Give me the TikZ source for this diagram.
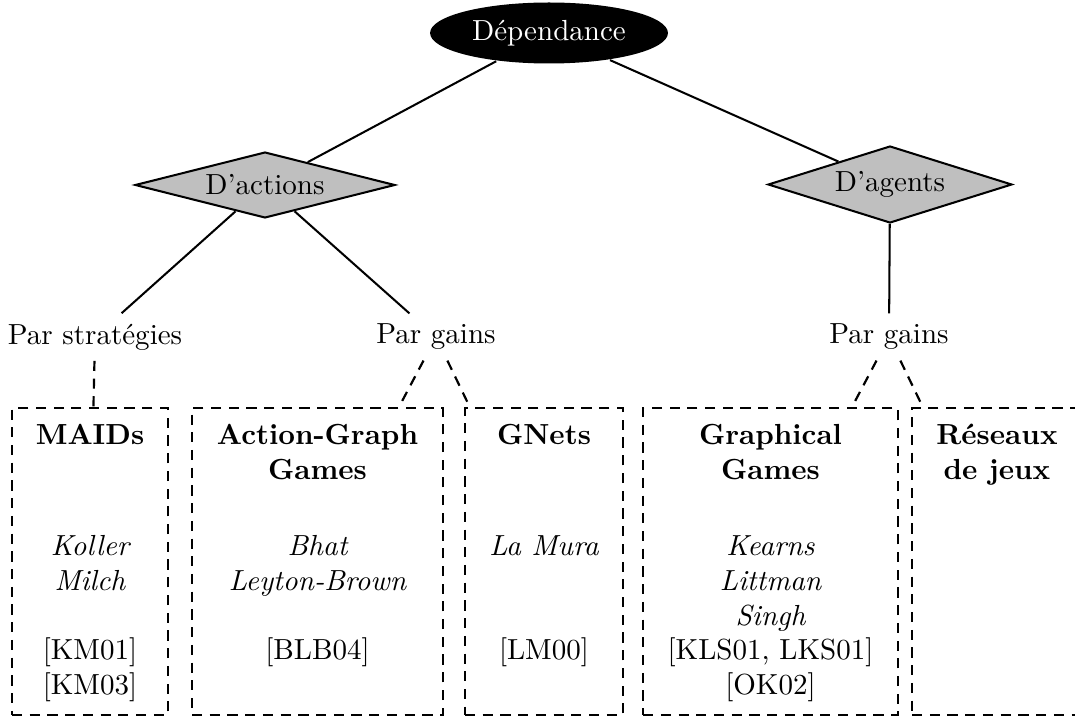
\documentclass[tikz,border=0pt]{standalone}
\usetikzlibrary{shapes.geometric}
\begin{document}
\begin{tikzpicture}[x=0.012093cm,y=-0.012093cm,line width=0.7pt,
  rootnode/.style={ellipse,fill=black,text=white,inner sep=0pt,minimum width=81.9pt,minimum height=21pt},
  choice/.style={diamond,draw,fill=black!25,aspect=3.5,inner sep=0pt},
  lvl/.style={inner sep=3.33pt},
  dashline/.style={line width=0.75pt,dash pattern=on 3.5pt off 2.6pt},
  fambox/.style={draw,dashline,rectangle,inner sep=0pt,minimum height=105.6pt},
  boxtitle/.style={font=\bfseries,anchor=base,inner sep=0pt},
  author/.style={font=\itshape,anchor=base,inner sep=0pt},
  citeref/.style={anchor=base,inner sep=0pt}]
\useasboundingbox (0,0) rectangle (1075,718);
\clip (0,0) rectangle (1075,718);

% top levels
\node[rootnode] (dep) at (549,33) {Dépendance};
\node[choice,minimum width=89.5pt,minimum height=22.7pt] (act) at (265,185) {D'actions};
\node[choice,minimum width=84pt,minimum height=26.5pt] (agt) at (890,184.5) {D'agents};

\node[lvl] (ps) at (95,337) {Par stratégies};
\node[lvl] (pg1) at (436,337) {Par gains};
\node[lvl] (pg2) at (889,337) {Par gains};

% family boxes
\node[fambox,minimum width=53.7pt] (maids) at (90,561.5) {};
\node[fambox,minimum width=86.4pt] (agg) at (317.5,561.5) {};
\node[fambox,minimum width=54.4pt] (gnets) at (544,561.5) {};
\node[fambox,minimum width=87.7pt] (gg) at (770.5,561.5) {};
\node[fambox,minimum width=58.5pt] (rj) at (997,561.5) {};

% solid connectors
\draw (dep) -- (act);
\draw (dep) -- (agt);
\draw (act) -- (ps);
\draw (act) -- (pg1);
\draw (agt) -- (pg2);

% dashed connectors
\draw[dashline] (ps) -- (maids);
\draw[dashline] (pg1) -- (agg);
\draw[dashline] (pg1) -- (gnets);
\draw[dashline] (pg2) -- (gg);
\draw[dashline] (pg2) -- (rj);

% MAIDs
\node[boxtitle] (t1) at (90,444) {MAIDs};
\node[author] (a1a) at (90,555) {Koller};
\node[author] (a1b) at (90,590) {Milch};
\node[citeref] (r1a) at (90,659) {[KM01]};
\node[citeref] (r1b) at (90,694) {[KM03]};

% Action-Graph Games
\node[boxtitle] (t2a) at (317.5,444) {Action-Graph};
\node[boxtitle] (t2b) at (317.5,479) {Games};
\node[author] (a2a) at (317.5,555) {Bhat};
\node[author] (a2b) at (317.5,590) {Leyton-Brown};
\node[citeref] (r2a) at (317.5,659) {[BLB04]};

% GNets
\node[boxtitle] (t3) at (544,444) {GNets};
\node[author] (a3a) at (544,555) {La Mura};
\node[citeref] (r3a) at (544,659) {[LM00]};

% Graphical Games
\node[boxtitle] (t4a) at (770.5,444) {Graphical};
\node[boxtitle] (t4b) at (770.5,479) {Games};
\node[author] (a4a) at (770.5,555) {Kearns};
\node[author] (a4b) at (770.5,590) {Littman};
\node[author] (a4c) at (770.5,625) {Singh};
\node[citeref] (r4a) at (770.5,659) {[KLS01, LKS01]};
\node[citeref] (r4b) at (770.5,694) {[OK02]};

% Reseaux de jeux
\node[boxtitle] (t5a) at (997,444) {Réseaux};
\node[boxtitle] (t5b) at (997,479) {de jeux};
\end{tikzpicture}
\end{document}
